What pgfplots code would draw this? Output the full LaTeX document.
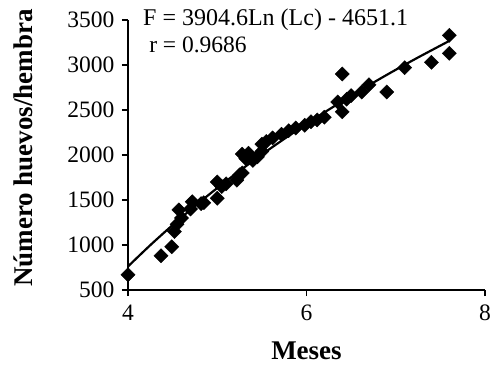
\documentclass[border=0pt]{standalone}
\usepackage{fontspec}
\setmainfont{Liberation Serif}
\usepackage{pgfplots}
\pgfplotsset{compat=1.18}
\begin{document}
\begin{tikzpicture}
\begin{axis}[
  scale only axis, width=357pt, height=270pt,
  xmin=4, xmax=8, ymin=500, ymax=3500,
  xtick={4,6,8}, ytick={500,1000,...,3500},
  axis x line*=bottom, axis y line*=left,
  axis line style={line width=1.6pt, black},
  tick style={line width=1.6pt, black}, major tick length=6pt, tick align=outside,
  xlabel={Meses}, ylabel={Número huevos/hembra},
  ticklabel style={font=\fontsize{23.5}{25}\selectfont},
  xticklabel style={yshift=-5pt},
  yticklabel style={xshift=-4pt},
  label style={font=\fontsize{27}{30}\selectfont\bfseries},
  xlabel style={at={(axis description cs:0.5,-0.259)}, anchor=base, inner sep=0pt},
  ylabel style={at={(axis description cs:-0.266,0.526)}, anchor=south, inner sep=0pt},
  /pgf/number format/assume math mode=true,
  /pgf/number format/1000 sep={},
  clip=false,
]
\addplot[only marks, mark=square*, mark size=5pt, mark options={rotate=45, fill=black, draw=black}] coordinates {
(4.00,670) (4.37,880) (4.49,980) (4.52,1150) (4.55,1230) (4.57,1390) (4.60,1300)
(4.70,1400) (4.72,1480) (4.82,1460) (4.85,1470) (5.00,1520) (5.00,1700) (5.05,1650)
(5.10,1680) (5.22,1720) (5.25,1780) (5.28,1800) (5.28,2010) (5.32,1960) (5.35,2020)
(5.40,1940) (5.45,1980) (5.50,2040) (5.50,2120) (5.55,2150) (5.62,2190) (5.72,2230)
(5.80,2270) (5.88,2300) (5.98,2330) (6.05,2370) (6.12,2390) (6.20,2420) (6.35,2590)
(6.40,2480) (6.40,2900) (6.45,2620) (6.50,2660) (6.62,2700) (6.70,2780) (6.90,2700)
(7.10,2970) (7.40,3030) (7.60,3130) (7.60,3330)
};
\addplot[black, line width=2.2pt, smooth] coordinates {
(4.00,761.8) (4.25,998.5) (4.50,1221.7) (4.75,1432.8) (5.00,1633.1) (5.25,1823.6)
(5.50,2005.3) (5.75,2178.8) (6.00,2345.0) (6.25,2504.4) (6.50,2657.5) (6.75,2804.9)
(7.00,2946.9) (7.25,3083.9) (7.60,3268.0)
};
\node[anchor=base west, inner sep=0pt, font=\fontsize{24}{26}\selectfont] at (axis description cs:0.042,0.981) {F = 3904.6Ln (Lc) - 4651.1};
\node[anchor=base west, inner sep=0pt, font=\fontsize{23.5}{26}\selectfont] at (axis description cs:0.059,0.878) {r = 0.9686};
\coordinate (bbSW) at (axis description cs:-0.3585,-0.2778);
\coordinate (bbNE) at (axis description cs:1.014,1.0741);
\end{axis}
\pgfresetboundingbox
\path (bbSW) rectangle (bbNE);
\end{tikzpicture}
\end{document}
